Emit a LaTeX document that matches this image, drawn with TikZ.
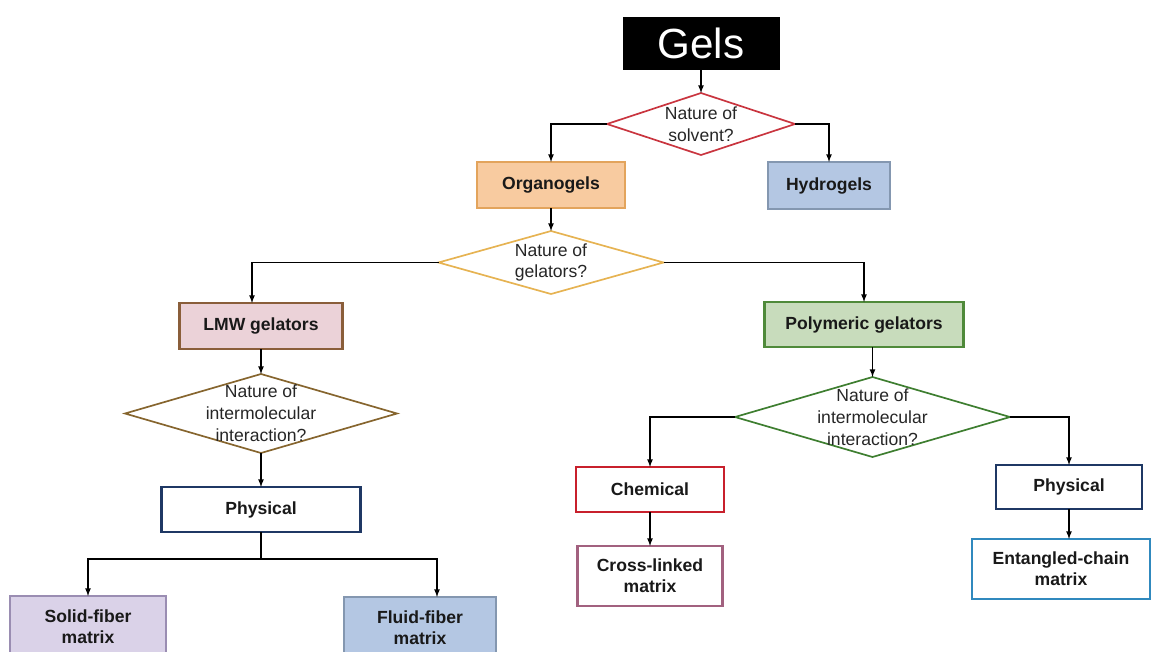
\documentclass[tikz,border=0pt]{standalone}
\usepackage{fontspec}
\setmainfont{Liberation Sans}
\usepackage{xcolor}
\usepackage{tikz}
\usetikzlibrary{shapes,arrows,positioning}

\definecolor{orgfill}{HTML}{F8CBA0}
\definecolor{orgdraw}{HTML}{E3A45C}
\definecolor{hydfill}{HTML}{B4C7E3}
\definecolor{hyddraw}{HTML}{8497B0}
\definecolor{lmwfill}{HTML}{EBD2D8}
\definecolor{lmwdraw}{HTML}{8A5E3A}
\definecolor{polfill}{HTML}{C8DCBC}
\definecolor{poldraw}{HTML}{4F8A3A}
\definecolor{solfill}{HTML}{DAD2E8}
\definecolor{soldraw}{HTML}{9A8DB2}
\definecolor{navy}{HTML}{1F3864}
\definecolor{chemred}{HTML}{C8202C}
\definecolor{mauve}{HTML}{A2617F}
\definecolor{entblue}{HTML}{3089BE}
\definecolor{qred}{HTML}{C9353F}
\definecolor{qorange}{HTML}{E6B352}
\definecolor{qbrown}{HTML}{86652E}
\definecolor{qgreen}{HTML}{3E7E30}

\begin{document}
\begin{tikzpicture}
    \tikzstyle{box} = [draw, rectangle, align=center, inner sep=0pt, outer sep=0pt, line width=1.5pt, font=\fontsize{12.5}{15}\selectfont\bfseries, text=black!90]
    \tikzstyle{query} = [draw, diamond, inner sep=0pt, outer sep=0pt, line width=1.2pt]
    \tikzstyle{qtext} = [align=center, font=\fontsize{12.5}{15.5}\selectfont, text=black!85]
    \tikzstyle{link} = [->, >=latex, line width=0.9pt]

    \useasboundingbox (0,0) rectangle (28.9,-16.275);
    \clip (0,0) rectangle (28.9,-16.275);

    \node [fill=black, text=white, outer sep=0pt, minimum width=3.925cm, minimum height=1.325cm, font=\fontsize{30}{34}\selectfont] (gels) at (17.525,-1.0875) {Gels};

    \node [query, draw=qred, minimum width=4.7cm, minimum height=1.55cm, below=0.575cm of gels, label={[qtext]center:Nature of\\solvent?}] (solvent) {};

    \node [box, fill=orgfill, draw=orgdraw, minimum width=3.7cm, minimum height=1.15cm, below=0.175cm of solvent, xshift=-3.75cm] (organo) {Organogels};
    \node [box, fill=hydfill, draw=hyddraw, minimum width=3.05cm, minimum height=1.175cm, below=0.175cm of solvent, xshift=3.2cm] (hydro) {Hydrogels};

    \node [query, draw=qorange, minimum width=5.625cm, minimum height=1.575cm, below=0.575cm of organo, label={[qtext]center:Nature of\\gelators?}] (gelators) {};

    \node [box, fill=lmwfill, draw=lmwdraw, minimum width=4.075cm, minimum height=1.15cm, below=0.225cm of gelators, xshift=-7.25cm] (lmw) {LMW gelators};
    \node [box, fill=polfill, draw=poldraw, minimum width=4.975cm, minimum height=1.125cm, below=0.2cm of gelators, xshift=7.825cm] (poly) {Polymeric gelators};

    \node [query, draw=qbrown, minimum width=6.8cm, minimum height=1.975cm, below=0.625cm of lmw, label={[qtext]center:Nature of\\intermolecular\\interaction?}] (interL) {};
    \node [query, draw=qgreen, minimum width=6.875cm, minimum height=2cm, below=0.75cm of poly, xshift=0.2125cm, label={[qtext]center:Nature of\\intermolecular\\interaction?}] (interR) {};

    \node [box, fill=white, draw=navy, minimum width=4.975cm, minimum height=1.125cm, below=0.85cm of interL] (physL) {Physical};
    \coordinate [below=0.675cm of physL] (split);
    \node [box, fill=solfill, draw=soldraw, minimum width=3.9cm, minimum height=1.55cm, below=1.6cm of physL, xshift=-4.325cm] (solid) {Solid-fiber\\matrix};
    \node [box, fill=hydfill, draw=hyddraw, minimum width=3.8cm, minimum height=1.55cm, below=1.625cm of physL, xshift=3.975cm] (fluid) {Fluid-fiber\\matrix};

    \node [box, fill=white, draw=chemred, minimum width=3.7cm, minimum height=1.125cm, below=0.25cm of interR, xshift=-5.5625cm] (chem) {Chemical};
    \node [box, fill=white, draw=mauve, minimum width=3.625cm, minimum height=1.5cm, below=0.85cm of chem] (cross) {Cross-linked\\matrix};
    \node [box, fill=white, draw=navy, minimum width=3.65cm, minimum height=1.1cm, below=0.2cm of interR, xshift=4.9125cm] (physR) {Physical};
    \node [box, fill=white, draw=entblue, minimum width=4.45cm, minimum height=1.5cm, below=0.75cm of physR, xshift=-0.2cm] (entangled) {Entangled-chain\\matrix};

    \draw [link] (gels) -- (solvent);
    \draw [link] (solvent.west) -| (organo);
    \draw [link] (solvent.east) -| (hydro);
    \draw [link] (organo) -- (gelators);
    \draw [link] (gelators.west) -| ([xshift=-0.225cm]lmw.north);
    \draw [link] (gelators.east) -| (poly);
    \draw [link] (lmw) -- (interL);
    \draw [link] (poly.south -| interR.north) -- (interR.north);
    \draw [link] (interL) -- (physL);
    \draw [line width=0.9pt] (physL) -- (split);
    \draw [link] (split) -| (solid);
    \draw [link] (split) -| ([xshift=0.425cm]fluid.north);
    \draw [link] (interR.west) -| (chem);
    \draw [link] (interR.east) -| (physR);
    \draw [link] (chem) -- (cross);
    \draw [link] (physR.south) -- (physR.south |- entangled.north);
\end{tikzpicture}
\end{document}
